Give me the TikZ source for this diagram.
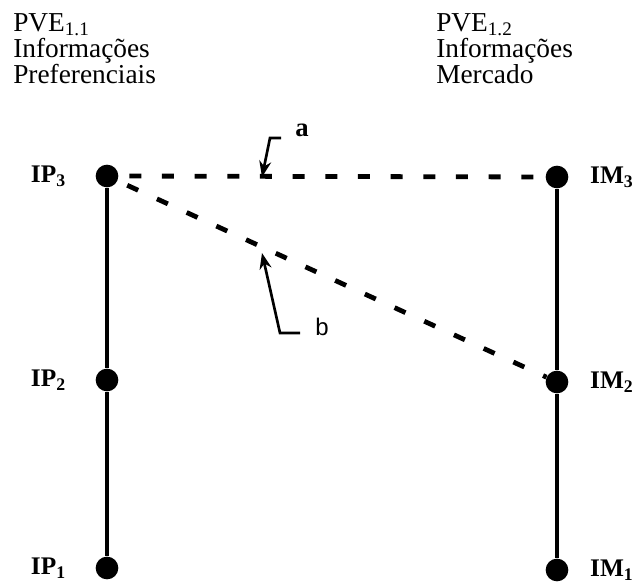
\documentclass[tikz,border=0pt]{standalone}
\usepackage{fontspec}
\setmainfont{Liberation Serif}
\setsansfont{Liberation Sans}
\usetikzlibrary{positioning,arrows.meta}

\begin{document}
\begin{tikzpicture}[x=0.75pt, y=-0.75pt,
  point/.style={circle, fill, inner sep=0pt, minimum size=17pt},
  head/.style={anchor=north west, align=left, inner sep=0pt, font=\fontsize{20.5}{19.5}\selectfont},
  tag/.style={inner sep=0pt, font=\fontsize{19}{19}\selectfont\bfseries},
  letter/.style={inner sep=0pt, font=\fontsize{19}{19}\selectfont},
  axis/.style={line width=3.6pt},
  link/.style={line width=3.6pt, dash pattern=on 9pt off 15.5pt},
  pointer/.style={-{Stealth[length=12pt, width=9pt]}, line width=2pt}
]
  \useasboundingbox (0,0) rectangle (638,584);

  % headers
  \node[head] (H1) at (13,13) {PVE\textsubscript{1.1}\\ Informações\\ Preferenciais};
  \node[head] (H2) at (436,13) {PVE\textsubscript{1.2}\\ Informações\\ Mercado};

  % points
  \node[point] (IP3) at (107,176) {};
  \node[point] (IP2) at (107,380) {};
  \node[point] (IP1) at (107,568) {};
  \node[point] (IM3) at (557,177) {};
  \node[point] (IM2) at (557,382) {};
  \node[point] (IM1) at (557,570) {};

  \node[tag, left=22pt of IP3] {IP\textsubscript{3}};
  \node[tag, left=22pt of IP2] {IP\textsubscript{2}};
  \node[tag, left=22pt of IP1] {IP\textsubscript{1}};
  \node[tag, right=16pt of IM3] {IM\textsubscript{3}};
  \node[tag, right=16pt of IM2] {IM\textsubscript{2}};
  \node[tag, right=16pt of IM1] {IM\textsubscript{1}};

  \draw[axis] (IP3) -- (IP2) -- (IP1);
  \draw[axis] (IM3) -- (IM2) -- (IM1);

  \draw[link, shorten <=8pt] (IP3) -- (IM3);
  \draw[link, shorten <=8pt] (IP3) -- (IM2);

  % pointers
  \node[letter, font=\fontsize{20}{20}\selectfont\bfseries] (a) at (302,130) {a};
  \node[letter, font=\fontsize{18}{18}\sffamily] (b) at (322,327) {b};
  \coordinate (ta) at (262,177);
  \coordinate (tb) at (262,253);
  \draw[pointer] (281,138) -- (270,138) -- (ta);
  \draw[pointer] (300,333) -- (280,333) -- (tb);
\end{tikzpicture}
\end{document}
